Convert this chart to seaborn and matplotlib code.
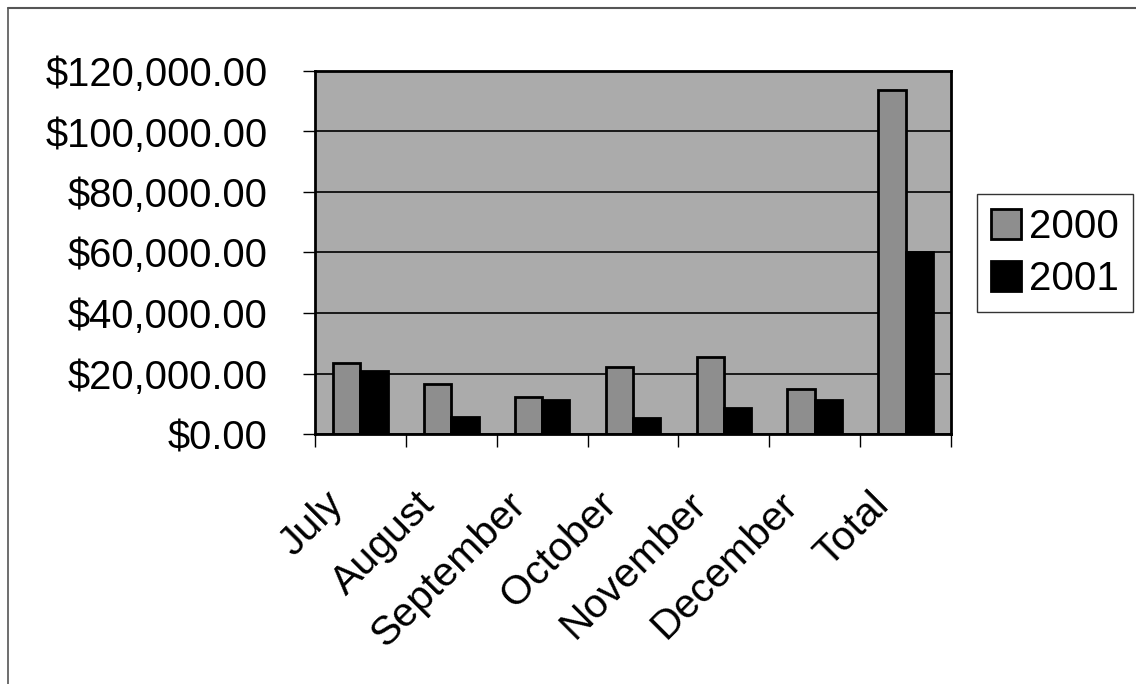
import matplotlib
matplotlib.use('Agg')
import matplotlib.pyplot as plt
import matplotlib.transforms as mtransforms
from matplotlib.lines import Line2D
import seaborn as sns
import pandas as pd

sns.set_style("ticks")
plt.rcParams['font.family'] = ['Liberation Sans', 'DejaVu Sans']
plt.rcParams['text.color'] = 'black'
plt.rcParams['xtick.color'] = 'black'
plt.rcParams['ytick.color'] = 'black'

# monthly sales
months = ['July', 'August', 'September', 'October', 'November', 'December', 'Total']
sales_2000 = [23500, 16500, 12200, 22100, 25500, 14900, 113700]
sales_2001 = [20800, 5600, 11200, 5300, 8600, 11200, 60200]
years = ['2000', '2001']

df = pd.DataFrame({
    'Month': months * 2,
    'Sales': sales_2000 + sales_2001,
    'Year': [years[0]] * len(months) + [years[1]] * len(months),
})

color_dict = {'2000': '#8e8e8e', '2001': '#000000'}
fs = 29.5

fig = plt.figure(figsize=(11.36, 6.84), dpi=100)
ax = fig.add_axes([315 / 1136, 1 - 434 / 684, 636 / 1136, 363 / 684])
ax.set_facecolor('#ababab')

sns.barplot(data=df, x='Month', y='Sales', hue='Year', palette=color_dict,
            width=0.6, gap=0, edgecolor='black', linewidth=2, ax=ax)

ax.set_xlim(-0.5, len(months) - 0.5)
ax.set_ylim(0, 120000)
ax.set_yticks(range(0, 120001, 20000))
ax.set_yticklabels(['${:,.2f}'.format(v) for v in range(0, 120001, 20000)], fontsize=28.8)
ax.yaxis.grid(True, color='black', linewidth=1.2)
ax.set_axisbelow(True)
ax.set_xlabel('')
ax.set_ylabel('')

for side in ['left', 'right', 'top', 'bottom']:
    ax.spines[side].set_visible(True)
    ax.spines[side].set_color('black')
    ax.spines[side].set_linewidth(2)

# tick marks go between categories, labels sit under the centres
ax.set_xticks([i - 0.5 for i in range(len(months) + 1)], minor=True)
ax.tick_params(axis='x', which='minor', length=9, width=1, direction='out')
ax.tick_params(axis='x', which='major', length=0, pad=52)
ax.tick_params(axis='y', length=9, width=1, direction='out', pad=25)
ax.set_xticks(range(len(months)))
ax.set_xticklabels(months, fontsize=fs, rotation=45, ha='right', va='baseline',
                   rotation_mode='anchor')
offset = mtransforms.ScaledTranslation(-0.15, 0, fig.dpi_scale_trans)
for label in ax.get_xticklabels():
    label.set_transform(label.get_transform() + offset)

handles, labels = ax.get_legend_handles_labels()
ax.get_legend().remove()
leg = fig.legend(handles, labels, loc='center left',
                 bbox_to_anchor=(977 / 1136, 1 - 253 / 684), fontsize=29,
                 frameon=True, fancybox=False, edgecolor='black',
                 handlelength=0.75, handleheight=0.75, handletextpad=0.2,
                 borderpad=0.35, labelspacing=0.35, borderaxespad=0)
leg.get_frame().set_linewidth(1)

# chart area border (top and left edges show in the scan)
fig.add_artist(Line2D([8 / 1136, 1], [1 - 8 / 684, 1 - 8 / 684], color='#555555', linewidth=1.5))
fig.add_artist(Line2D([8 / 1136, 8 / 1136], [0, 1 - 8 / 684], color='#555555', linewidth=1.2))

fig.savefig('out.png', dpi=100)
plt.close()
